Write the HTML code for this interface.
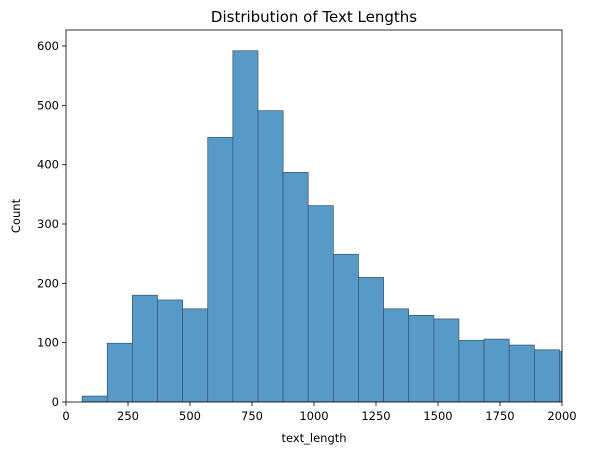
<!DOCTYPE html>
<html><head><meta charset="utf-8"><style>
body{margin:0;background:#fff;font-family:"Liberation Sans","DejaVu Sans",sans-serif}
svg text{font-family:"DejaVu Sans","Liberation Sans",sans-serif;fill:#000}
</style></head><body>
<svg id="c" width="589" height="455">
<defs><clipPath id="clip"><rect x="66" y="30" width="496" height="372"/></clipPath></defs>
<text x="314" y="22" font-size="15" text-anchor="middle">Distribution of Text Lengths</text>
<g id="bars" clip-path="url(#clip)"></g>
<g id="axes"></g>
</svg>
<script>
const binStart = 65;
const binWidth = 101.3;
const counts = [10, 99, 180, 172, 157, 446, 592, 491, 387, 331, 249, 210, 157, 146, 140, 104, 106, 96, 88, 85];
const xTicks = [0, 250, 500, 750, 1000, 1250, 1500, 1750, 2000];
const yTicks = [0, 100, 200, 300, 400, 500, 600];
const L=66,R=562,T=30,B=402;
const x=v=>L+(v-0)/2000*(R-L);
const y=v=>B-v/627*(B-T);
const ns="http://www.w3.org/2000/svg";
const bars=document.getElementById('bars'),axes=document.getElementById('axes');
function mk(tag,attrs,parent){const e=document.createElementNS(ns,tag);for(const k in attrs)e.setAttribute(k,attrs[k]);parent.appendChild(e);return e;}
counts.forEach((c,i)=>{
  const x0=x(binStart+i*binWidth),x1=x(binStart+(i+1)*binWidth);
  const r=mk('rect',{x:x0,y:y(c),width:x1-x0,height:B-y(c),fill:'#5799c7',stroke:'#36546b','stroke-width':0.7},bars);
  
  
});
const frame=mk('rect',{x:L,y:T,width:R-L,height:B-T,fill:'none',stroke:'#000','stroke-width':0.8},axes);


xTicks.forEach(t=>{
  mk('line',{x1:x(t),x2:x(t),y1:B,y2:B+4,stroke:'#000','stroke-width':0.8},axes);
  const tx=mk('text',{x:x(t),y:B+18,'font-size':11.5,'text-anchor':'middle'},axes);
  tx.textContent=t;
  
  
});
yTicks.forEach(t=>{
  mk('line',{x1:L-4,x2:L,y1:y(t),y2:y(t),stroke:'#000','stroke-width':0.8},axes);
  const tx=mk('text',{x:L-7,y:y(t)+4,'font-size':11.5,'text-anchor':'end'},axes);
  tx.textContent=t;
  
  
});
const xl=mk('text',{x:(L+R)/2,y:442,'font-size':11.5,'text-anchor':'middle'},axes);
xl.textContent='text_length';


const yl=mk('text',{x:20,y:(T+B)/2,'font-size':11.5,'text-anchor':'middle',transform:`rotate(-90 20 ${(T+B)/2})`},axes);
yl.textContent='Count';


</script>
</body></html>
